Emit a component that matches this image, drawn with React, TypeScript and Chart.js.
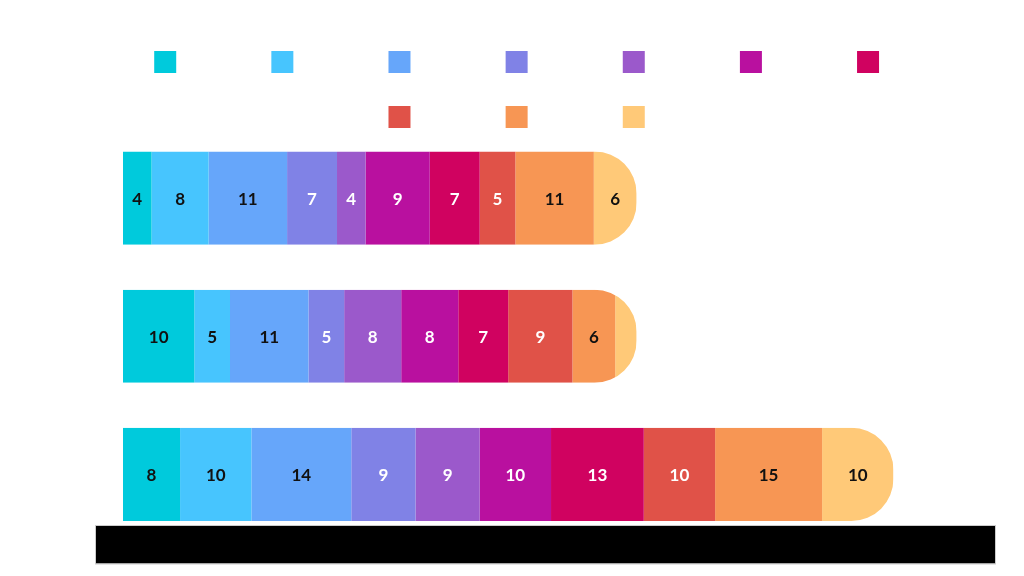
import React, { useEffect, useRef } from "react";
import { Chart, registerables } from "chart.js";

Chart.register(...registerables);

const categories = ["Row 1", "Row 2", "Row 3"];
const seriesNames = ["Series A", "Series B", "Series C", "Series D", "Series E", "Series F", "Series G", "Series H", "Series I", "Series J"];
const s1 = [4, 10, 8];
const s2 = [8, 5, 10];
const s3 = [11, 11, 14];
const s4 = [7, 5, 9];
const s5 = [4, 8, 9];
const s6 = [9, 8, 10];
const s7 = [7, 7, 13];
const s8 = [5, 9, 10];
const s9 = [11, 6, 15];
const s10 = [6, 3, 10];
const seriesValues = [s1, s2, s3, s4, s5, s6, s7, s8, s9, s10];
const colors = ["#00cadc", "#47c5fe", "#66a6fa", "#8082e6", "#9b59cb", "#b9109f", "#d00260", "#e05248", "#f79654", "#ffc978"];
const labelColors = ["#111111", "#111111", "#111111", "#ffffff", "#ffffff", "#ffffff", "#ffffff", "#ffffff", "#111111", "#111111"];
const X_MAX = 126.3;
const END_RADIUS = 42;

const pillClip = {
  id: "pillClip",
  beforeDatasetsDraw(chart: any) {
    const ctx = chart.ctx;
    const xs = chart.scales.x;
    const lastMeta = chart.getDatasetMeta(chart.data.datasets.length - 1);
    ctx.save();
    ctx.beginPath();
    categories.forEach((_, i) => {
      const el: any = lastMeta.data[i];
      if (!el) return;
      const total = chart.data.datasets.reduce((a: number, d: any) => a + (d.data[i] || 0), 0);
      const left = xs.getPixelForValue(0);
      const right = xs.getPixelForValue(total);
      const h = el.height;
      const top = el.y - h / 2;
      const bottom = el.y + h / 2;
      const r = Math.min(END_RADIUS, h / 2, right - left);
      ctx.moveTo(left, top);
      ctx.lineTo(right - r, top);
      ctx.arcTo(right, top, right, top + r, r);
      ctx.lineTo(right, bottom - r);
      ctx.arcTo(right, bottom, right - r, bottom, r);
      ctx.lineTo(left, bottom);
      ctx.closePath();
    });
    ctx.clip();
  },
  afterDatasetsDraw(chart: any) {
    chart.ctx.restore();
    const ctx = chart.ctx;
    ctx.save();
    ctx.font = "bold 17px Lato, 'DejaVu Sans', sans-serif";
    ctx.textAlign = "center";
    ctx.textBaseline = "middle";
    chart.data.datasets.forEach((ds: any, di: number) => {
      const meta = chart.getDatasetMeta(di);
      meta.data.forEach((el: any, i: number) => {
        const v = ds.data[i];
        if (v < 4) return;
        const c = el.getCenterPoint();
        ctx.fillStyle = labelColors[di];
        ctx.fillText(String(v), c.x, c.y + 1);
      });
    });
    ctx.restore();
  },
};

const baseBand = {
  id: "baseBand",
  afterDraw(chart: any) {
    const { ctx, chartArea } = chart;
    const left = chartArea.left - 27;
    const right = left + 899;
    const top = chartArea.bottom - 17.5;
    const bottom = chartArea.bottom + 20;
    ctx.save();
    ctx.fillStyle = "#000000";
    ctx.fillRect(left, top, right - left, bottom - top);
    ctx.strokeStyle = "#cccccc";
    ctx.lineWidth = 1;
    ctx.strokeRect(left - 0.5, top - 0.5, right - left + 1, bottom - top + 1);
    ctx.restore();
  },
};

export default function App() {
  const ref = useRef<HTMLCanvasElement | null>(null);
  useEffect(() => {
    if (!ref.current) return;
    const chart = new Chart(ref.current, {
      type: "bar",
      data: {
        labels: categories,
        datasets: seriesValues.map((vals, i) => ({
          label: seriesNames[i],
          data: vals,
          backgroundColor: colors[i],
          borderColor: "rgba(255,255,255,0.7)",
          borderWidth: 0,
          barPercentage: 0.674,
          categoryPercentage: 1,
        })),
      },
      options: {
        indexAxis: "y",
        animation: false,
        responsive: true,
        maintainAspectRatio: false,
        layout: { padding: { top: 18, left: 71.4, right: 0, bottom: 32.5 } },
        plugins: {
          legend: {
            position: "top",
            maxHeight: 111,
            labels: {
              boxWidth: 22,
              boxHeight: 22,
              padding: 33,
              color: "#ffffff",
              font: { family: "'DejaVu Sans Mono', monospace", size: 11.7 },
            },
          },
          tooltip: { enabled: false },
        },
        scales: {
          x: { stacked: true, min: 0, max: X_MAX, display: false },
          y: {
            stacked: true,
            display: true,
            ticks: { display: false },
            grid: { display: false },
            border: { display: false },
            afterFit: (scale: any) => {
              scale.width = 51.6;
            },
          },
        },
      },
      plugins: [pillClip, baseBand],
    } as any);
    return () => chart.destroy();
  }, []);
  return (
    <div style={{ position: "fixed", left: 0, top: 0, width: 1024, height: 576, background: "#ffffff" }}>
      <canvas ref={ref} />
    </div>
  );
}
